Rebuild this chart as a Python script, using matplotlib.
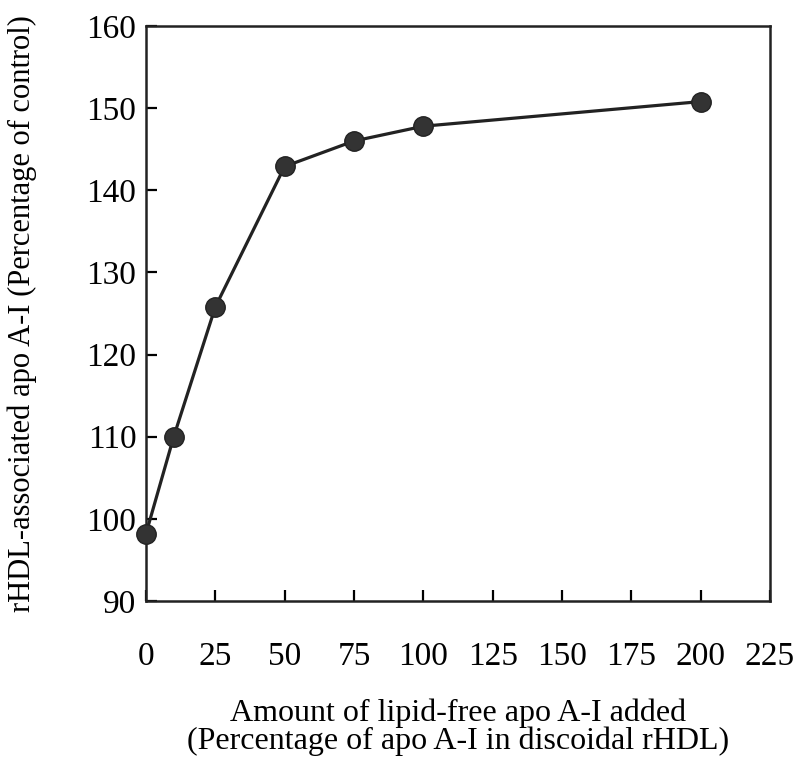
import matplotlib
matplotlib.use("Agg")
import matplotlib.pyplot as plt

# 数据
apo_added = [0, 10, 25, 50, 75, 100, 200]
apo_assoc = [98.2, 110, 125.8, 142.9, 146.0, 147.8, 150.8]
x_ticks = [0, 25, 50, 75, 100, 125, 150, 175, 200, 225]
y_ticks = [90, 100, 110, 120, 130, 140, 150, 160]

plt.rcParams['font.family'] = ['Liberation Serif', 'DejaVu Serif']

fig = plt.figure(figsize=(7.99, 7.63), dpi=100)
ax = fig.add_axes([146/799, 1-601/763, (770-146)/799, (601-26)/763])

ax.plot(apo_added, apo_assoc, color="#222222", linewidth=2.3,
        marker="o", markersize=14, markerfacecolor="#333333",
        markeredgecolor="#222222", clip_on=False, zorder=3)

ax.set_xlim(0, 225)
ax.set_ylim(90, 160)
ax.set_xticks(x_ticks)
ax.set_yticks(y_ticks)
ax.tick_params(axis="x", direction="in", length=8, width=1.6, pad=29, labelsize=24)
ax.tick_params(axis="y", direction="in", length=8, width=1.6, pad=7, labelsize=24)
for s in ax.spines.values():
    s.set_linewidth(1.8)
    s.set_color("#222222")

fig.text(458/799, 1-727/763, "Amount of lipid-free apo A-I added\n(Percentage of apo A-I in discoidal rHDL)",
         ha="center", va="center", fontsize=23, linespacing=0.95)
fig.text(22/799, 1-314/763, "rHDL-associated apo A-I (Percentage of control)",
         ha="center", va="center", rotation=90, fontsize=22)

fig.savefig("out.png", dpi=100)
